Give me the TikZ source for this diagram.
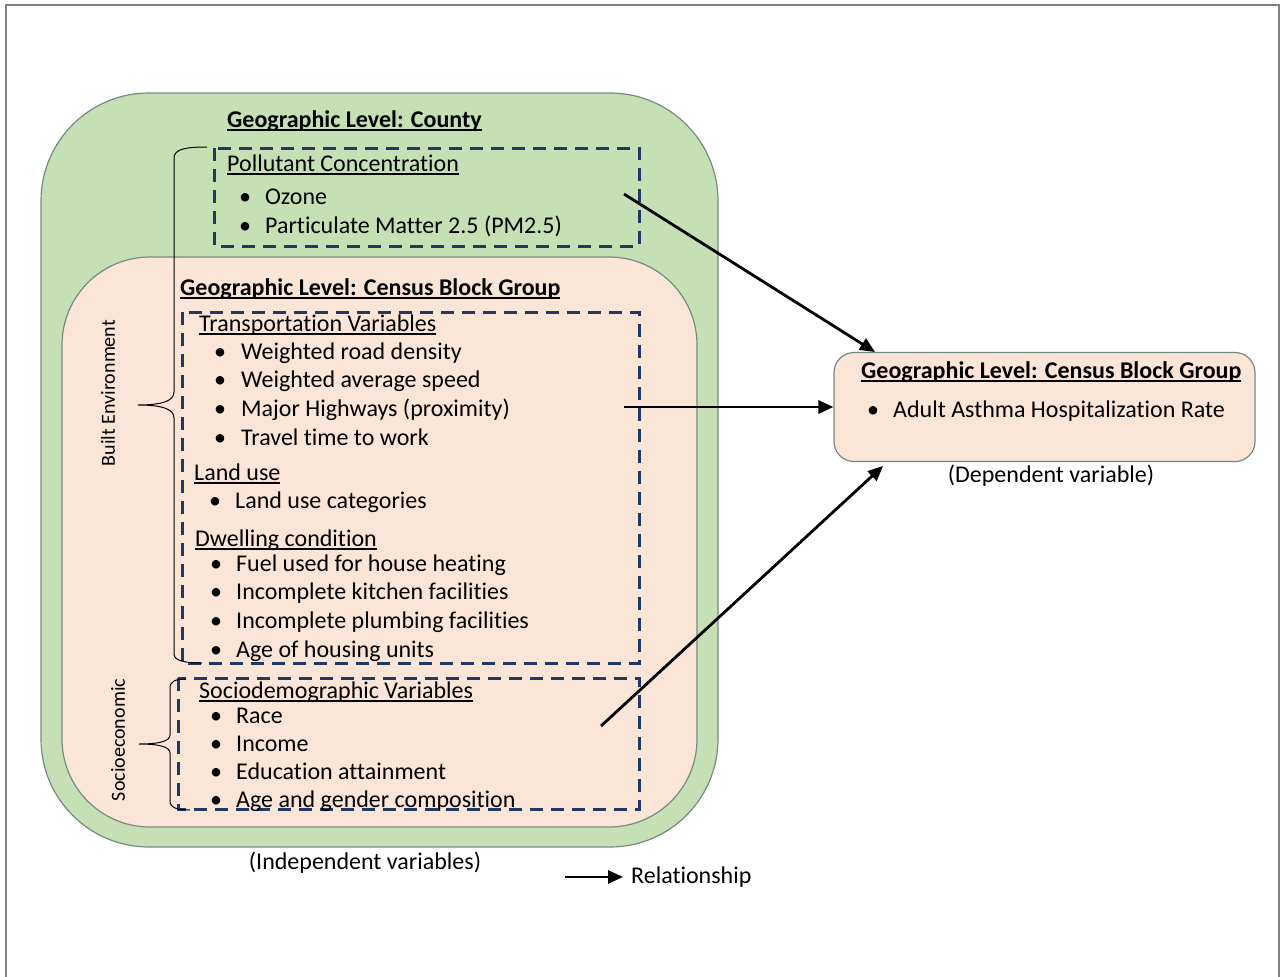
\documentclass[tikz,border=0pt]{standalone}
\usepackage{fontspec}
\setmainfont{Carlito}[Ligatures=NoCommon]
\usetikzlibrary{arrows.meta}

\definecolor{cbgpink}{HTML}{FBE5D6}
\definecolor{countygreen}{HTML}{C5E0B4}
\definecolor{boxline}{RGB}{118,138,132}
\definecolor{dashnavy}{HTML}{203864}
\definecolor{framegray}{HTML}{808080}

% underlined heading text
\newcommand{\ulin}[1]{\setbox0\hbox{#1}\rlap{\rule[-3.5pt]{\wd0}{1.6pt}}\box0}

\tikzset{
  levelbox/.style={draw=boxline, line width=1.2pt, rounded corners=#1},
  groupbox/.style={draw=dashnavy, line width=3pt, dash pattern=on 13pt off 8pt},
  bracel/.style={black, line width=1pt},
  rel/.style={-{Triangle[length=15pt,width=13pt]}, line width=2.8pt},
  txt/.style={anchor=base west, inner sep=0pt, font=\fontsize{24}{29}\selectfont},
  caption/.style={inner sep=0pt, font=\fontsize{24}{29}\selectfont},
  sidelabel/.style={inner sep=0pt, rotate=90, font=\fontsize{20}{24}\selectfont},
}

\begin{document}
\begin{tikzpicture}[x=1pt, y=-1pt]

  % Definitions
  \def\bx{214}    % bullet column, census block group lists
  \def\tx{241}    % text column, census block group lists
  \def\dl{28.67}  % line step of the bullet lists

  \useasboundingbox (0,0) rectangle (1286,977);
  \draw[framegray, line width=2.5pt] (6,5) rectangle (1279,995);

  % Level boxes
  \draw[levelbox=108, fill=countygreen] (41,93) rectangle (718,847);
  \draw[levelbox=88, fill=cbgpink] (62,257) rectangle (697,827);
  \node[levelbox=20, fill=cbgpink, minimum width=421pt, minimum height=109pt] (dep) at (1044.5,407) {};

  % Variable groups
  \draw[groupbox] (214,148) rectangle (639,246);
  \draw[groupbox] (182,312) rectangle (639,663);
  \draw[groupbox] (178,678) rectangle (639,809);

  % Braces
  \draw[bracel] (207,147) .. controls (186,147) and (174,149) .. (174,158)
    -- (174,392) .. controls (174,401) and (162,405) .. (138,405)
    .. controls (162,405) and (174,409) .. (174,418)
    -- (174,654) .. controls (174,661) and (186,663) .. (202,663);
  \draw[bracel] (186,679) .. controls (176,679) and (170,681) .. (170,688)
    -- (170,735) .. controls (170,741) and (160,744) .. (139,744)
    .. controls (160,744) and (170,747) .. (170,753)
    -- (170,801) .. controls (170,808) and (178,810) .. (190,810);
  \node[sidelabel] (builtEnv) at (108,393) {Built Environment};
  \node[sidelabel] (socioEco) at (118,740) {Socioeconomic};

  % County level
  \node[txt] (countyTitle) at (227,127) {\ulin{\textbf{Geographic Level: County}}};
  \node[txt] (pollTitle) at (227,171) {\ulin{Pollutant Concentration}};
  \foreach \entry [count=\i] in {Ozone, Particulate Matter 2.5 (PM2.5)}{
    \node[txt] (pollB\i) at (239,175+29*\i) {\textbullet};
    \node[txt] (poll\i) at (265,175+29*\i) {\entry};
  }

  % Census block group level
  \node[txt] (cbgTitle) at (180,295) {\ulin{\textbf{Geographic Level: Census Block Group}}};
  \node[txt] (transTitle) at (199,331) {\ulin{Transportation Variables}};
  \foreach \entry [count=\i] in {Weighted road density, Weighted average speed,
      Major Highways (proximity), Travel time to work}{
    \node[txt] (transB\i) at (\bx,330.33+\dl*\i) {\textbullet};
    \node[txt] (trans\i) at (\tx,330.33+\dl*\i) {\entry};
  }
  \node[txt] (landTitle) at (194,480) {\ulin{Land use}};
  \node[txt] (landB1) at (209,508) {\textbullet};
  \node[txt] (land1) at (235,508) {Land use categories};
  \node[txt] (dwellTitle) at (195,546) {\ulin{Dwelling condition}};
  \foreach \entry [count=\i] in {Fuel used for house heating, Incomplete kitchen facilities,
      Incomplete plumbing facilities, Age of housing units}{
    \node[txt] (dwellB\i) at (210,542.33+\dl*\i) {\textbullet};
    \node[txt] (dwell\i) at (236,542.33+\dl*\i) {\entry};
  }
  \node[txt] (socTitle) at (199,698) {\ulin{Sociodemographic Variables}};
  \foreach \entry [count=\i] in {Race, Income, Education attainment, Age and gender composition}{
    \node[txt] (socB\i) at (210,694.7+28.3*\i) {\textbullet};
    \node[txt] (soc\i) at (236,694.7+28.3*\i) {\entry};
  }
  \node[caption] (indep) at (365,863) {(Independent variables)};

  % Dependent variable
  \node[txt] (depTitle) at (861,378) {\ulin{\textbf{Geographic Level: Census Block Group}}};
  \node[txt] (depB1) at (867,417) {\textbullet};
  \node[txt] (dep1) at (893,417) {Adult Asthma Hospitalization Rate};
  \node[caption] (depNote) at (1051,476) {(Dependent variable)};

  % Relationships
  \coordinate (pollOut) at (624,194);
  \coordinate (transOut) at (624,407);
  \coordinate (socOut) at (601,726);
  \coordinate (depTop) at (875,352);
  \coordinate (depLow) at (883,466);
  \draw[rel] (pollOut) -- (depTop);
  \draw[rel] (transOut) -- (dep.west);
  \draw[rel] (socOut) -- (depLow);

  % Legend
  \coordinate (legStart) at (565,877);
  \coordinate (legEnd) at (623,877);
  \draw[rel] (legStart) -- (legEnd);
  \node[caption, anchor=west] (legTxt) at (631,877) {Relationship};

\end{tikzpicture}
\end{document}
